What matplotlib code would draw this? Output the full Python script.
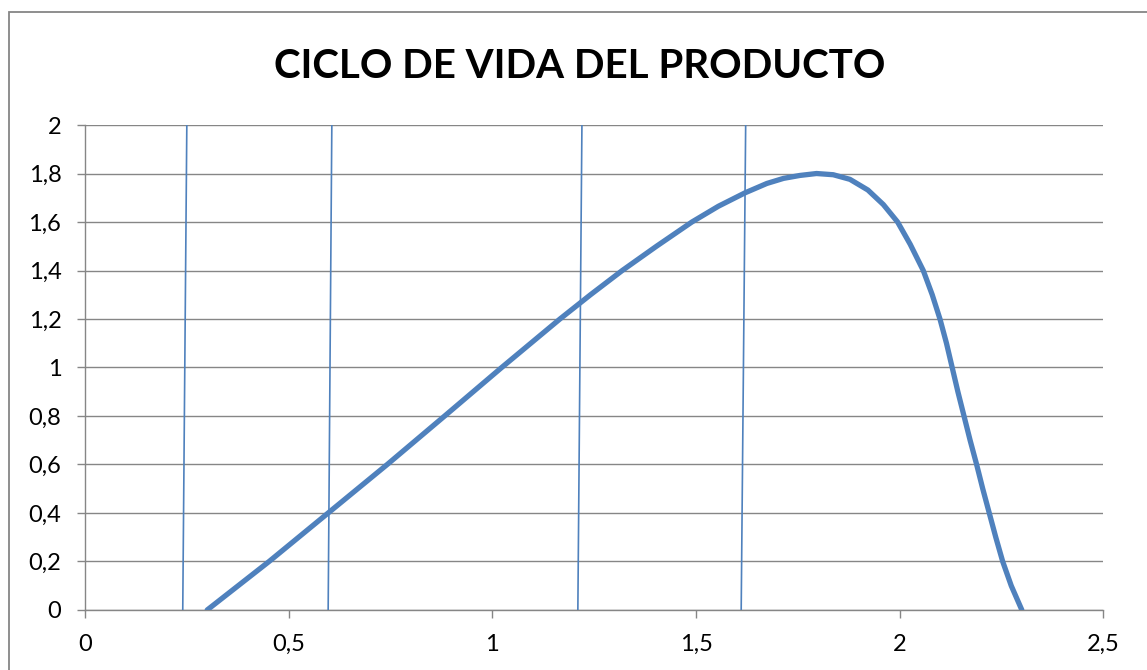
import matplotlib.pyplot as plt
from matplotlib.patches import Rectangle

# Curva del ciclo de vida (ventas vs tiempo)
curve_x = [0.300, 0.452, 0.597, 0.742, 0.883, 1.023, 1.166, 1.241, 1.319, 1.403,
           1.490, 1.555, 1.620, 1.674, 1.715, 1.755, 1.796, 1.837, 1.878, 1.922,
           1.960, 1.995, 2.026, 2.058, 2.080, 2.099, 2.115, 2.129, 2.143, 2.158,
           2.173, 2.189, 2.204, 2.220, 2.236, 2.253, 2.274, 2.300]
curve_y = [0.000, 0.200, 0.400, 0.600, 0.800, 1.000, 1.200, 1.300, 1.400, 1.500,
           1.600, 1.665, 1.720, 1.759, 1.780, 1.792, 1.800, 1.795, 1.776, 1.732,
           1.672, 1.600, 1.508, 1.400, 1.300, 1.200, 1.100, 1.000, 0.900, 0.800,
           0.700, 0.600, 0.500, 0.400, 0.300, 0.200, 0.100, 0.000]

# Separadores de etapas (introduccion, crecimiento, madurez, declive)
stage_x_bottom = [0.240, 0.597, 1.210, 1.611]
stage_x_top = [0.250, 0.606, 1.220, 1.622]
stage_y = [0.0, 2.0]

x_ticks = [0, 0.5, 1, 1.5, 2, 2.5]
x_labels = ['0', '0,5', '1', '1,5', '2', '2,5']
y_ticks = [0, 0.2, 0.4, 0.6, 0.8, 1, 1.2, 1.4, 1.6, 1.8, 2]
y_labels = ['0', '0,2', '0,4', '0,6', '0,8', '1', '1,2', '1,4', '1,6', '1,8', '2']

blue = '#4F81BD'
grey = '#868686'
plt.rcParams['font.family'] = ['Lato', 'DejaVu Sans']

fig = plt.figure(figsize=(11.47, 6.70), dpi=100)
ax = fig.add_axes([0.0741, 0.0896, 0.8878, 0.7238])

# borde del area del grafico
fig.patches.append(Rectangle((9 / 1147, -0.1), 1.2, 1.1 - 12 / 670,
                             transform=fig.transFigure, fill=False,
                             edgecolor=grey, linewidth=1.3))

for xb, xt in zip(stage_x_bottom, stage_x_top):
    ax.plot([xb, xt], stage_y, color=blue, linewidth=1.2, zorder=3)

ax.plot(curve_x, curve_y, color=blue, linewidth=3.8, solid_capstyle='round',
        solid_joinstyle='round', zorder=4)

ax.set_xlim(0, 2.5)
ax.set_ylim(0, 2)
ax.set_xticks(x_ticks)
ax.set_xticklabels(x_labels)
ax.set_yticks(y_ticks)
ax.set_yticklabels(y_labels)
ax.yaxis.grid(True, color=grey, linewidth=1.0)
ax.set_axisbelow(True)

for side in ['top', 'right']:
    ax.spines[side].set_visible(False)
for side in ['left', 'bottom']:
    ax.spines[side].set_color(grey)
    ax.spines[side].set_linewidth(1.0)

ax.tick_params(axis='both', direction='out', length=6, width=1.0, color=grey,
               labelsize=17, labelcolor='black')
ax.tick_params(axis='y', pad=11)
ax.tick_params(axis='x', pad=11)

fig.text(0.505, 1 - 78.3 / 670, 'CICLO DE VIDA DEL PRODUCTO', ha='center',
         va='baseline', fontsize=29, fontweight='bold')

fig.savefig('out.png', dpi=100)
